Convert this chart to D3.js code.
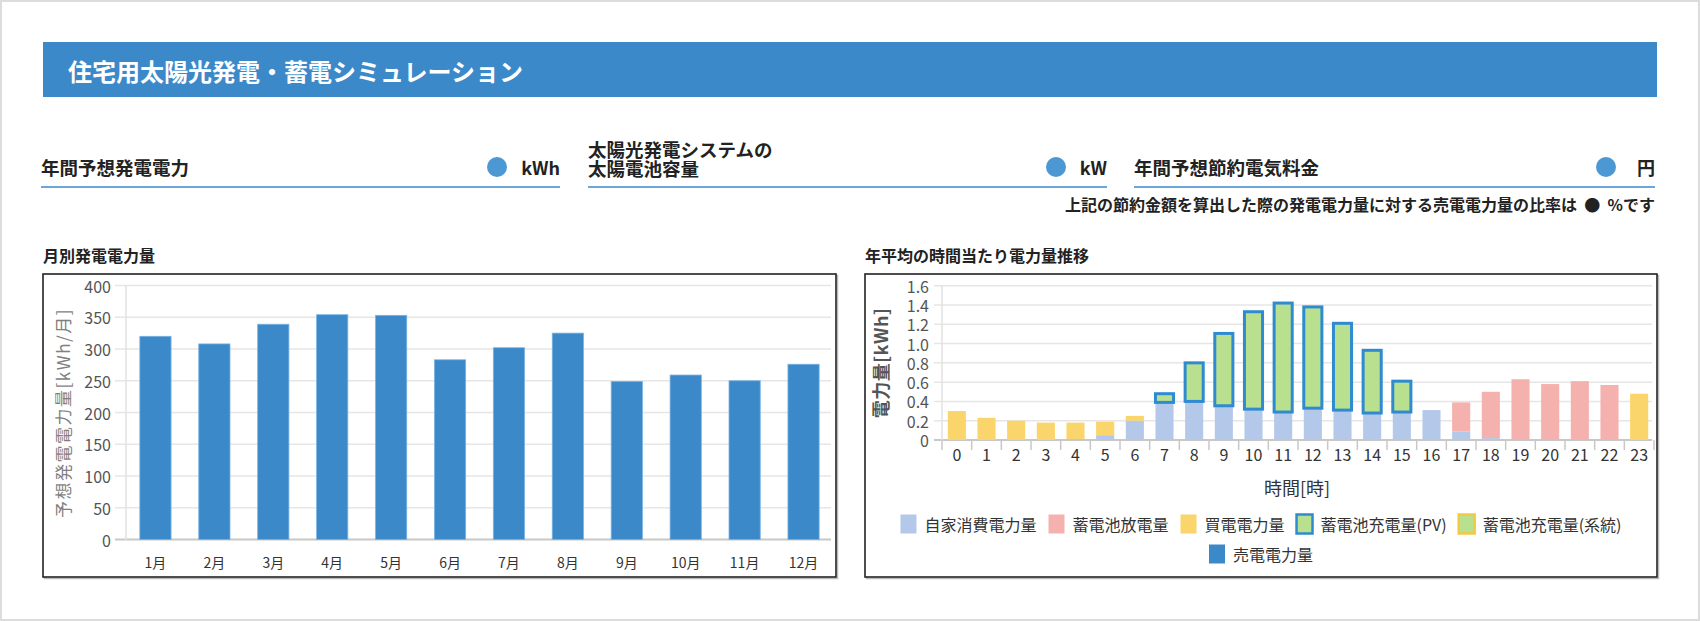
<!DOCTYPE html>
<html><head><meta charset="utf-8">
<script src="https://cdn.jsdelivr.net/npm/d3@7/dist/d3.min.js"></script>
<style>
html,body{margin:0;padding:0;background:#dcdcdc;}
svg{display:block;}
text{font-family:"Noto Sans CJK JP","Noto Sans",sans-serif;}
</style></head>
<body>
<svg id="c" width="1700" height="621"></svg>
<script>
// ---- data ----
const pageTitle = "住宅用太陽光発電・蓄電シミュレーション";
const fieldLabels = [["年間予想発電電力"], ["太陽光発電システムの", "太陽電池容量"], ["年間予想節約電気料金"]];
const fieldUnits = ["kWh", "kW", "円"];
const noteText = "上記の節約金額を算出した際の発電電力量に対する売電電力量の比率は  ●  %です";

const monthLabels = ["1月","2月","3月","4月","5月","6月","7月","8月","9月","10月","11月","12月"];
const monthlyKWh = [320, 308, 339, 354, 353, 283, 302, 325, 249, 259, 250, 276];
const monthlyTicks = [0, 50, 100, 150, 200, 250, 300, 350, 400];

const hourLabels = ["0","1","2","3","4","5","6","7","8","9","10","11","12","13","14","15","16","17","18","19","20","21","22","23"];
const selfUse    = [0, 0, 0, 0, 0.01, 0.05, 0.20, 0.39, 0.40, 0.355, 0.32, 0.29, 0.33, 0.31, 0.28, 0.29, 0.31, 0.09, 0.02, 0, 0, 0, 0, 0];
const discharge  = [0, 0, 0, 0, 0, 0, 0, 0, 0, 0, 0, 0, 0, 0, 0, 0, 0, 0.30, 0.48, 0.63, 0.58, 0.61, 0.57, 0];
const purchase   = [0.30, 0.23, 0.20, 0.18, 0.17, 0.14, 0.05, 0, 0, 0, 0, 0, 0, 0, 0, 0, 0, 0, 0, 0, 0, 0, 0, 0.48];
const chargePV   = [0, 0, 0, 0, 0, 0, 0, 0.09, 0.40, 0.75, 1.01, 1.13, 1.05, 0.90, 0.65, 0.32, 0, 0, 0, 0, 0, 0, 0, 0];
const chargeGrid = [0, 0, 0, 0, 0, 0, 0, 0, 0, 0, 0, 0, 0, 0, 0, 0, 0, 0, 0, 0, 0, 0, 0, 0];
const sell       = [0, 0, 0, 0, 0, 0, 0, 0, 0, 0, 0, 0, 0, 0, 0, 0, 0, 0, 0, 0, 0, 0, 0, 0];
const hourlyTicks = [0, 0.2, 0.4, 0.6, 0.8, 1.0, 1.2, 1.4, 1.6];
const seriesNames = ["自家消費電力量", "蓄電池放電量", "買電電力量", "蓄電池充電量(PV)", "蓄電池充電量(系統)", "売電電力量"];

// ---- drawing ----
const svg = d3.select("#c");
svg.append("rect").attr("x", 2).attr("y", 2).attr("width", 1696).attr("height", 617).attr("fill", "#fff");

// header bar
svg.append("rect").attr("x", 43).attr("y", 42).attr("width", 1614).attr("height", 55).attr("fill", "#3c89c9");
svg.append("text").attr("x", 68).attr("y", 70).attr("dominant-baseline", "central")
  .attr("fill", "#fff").attr("font-size", 24).attr("font-weight", 700).text(pageTitle);

// fields
const fields = [{x0: 41, x1: 560, dot: 497}, {x0: 588, x1: 1107, dot: 1056}, {x0: 1134, x1: 1655, dot: 1606}];
fields.forEach((f, i) => {
  const lines = fieldLabels[i];
  const t = svg.append("text").attr("font-size", 18.5).attr("font-weight", 700).attr("fill", "#222");
  lines.forEach((ln, j) => {
    const y = lines.length === 1 ? 167 : 149 + j * 18.5;
    t.append("tspan").attr("x", f.x0).attr("y", y).attr("dominant-baseline", "central").text(ln);
  });
  svg.append("circle").attr("cx", f.dot).attr("cy", 167).attr("r", 10).attr("fill", "#4b98d3");
  svg.append("text").attr("x", f.x1).attr("y", 167).attr("text-anchor", "end").attr("dominant-baseline", "central")
    .attr("font-size", 18).attr("font-weight", 700).attr("fill", "#222").text(fieldUnits[i]);
  svg.append("line").attr("x1", f.x0).attr("x2", f.x1).attr("y1", 187).attr("y2", 187)
    .attr("stroke", "#6aa6da").attr("stroke-width", 2);
});
svg.append("text").attr("x", 1655).attr("y", 204).attr("text-anchor", "end").attr("dominant-baseline", "central")
  .attr("font-size", 16).attr("font-weight", 700).attr("fill", "#222").style("white-space", "pre").text(noteText);

// section titles
svg.append("text").attr("x", 43).attr("y", 255).attr("dominant-baseline", "central")
  .attr("font-size", 16).attr("font-weight", 700).attr("fill", "#222").text("月別発電電力量");
svg.append("text").attr("x", 865).attr("y", 255).attr("dominant-baseline", "central")
  .attr("font-size", 16).attr("font-weight", 700).attr("fill", "#222").text("年平均の時間当たり電力量推移");

// boxes
[[43, 836], [865, 1657]].forEach(([x0, x1]) => {
  svg.append("rect").attr("x", x0 + 1.5).attr("y", 275.5).attr("width", x1 - x0).attr("height", 303)
    .attr("fill", "none").attr("stroke", "#bbb").attr("stroke-width", 1.5);
  svg.append("rect").attr("x", x0).attr("y", 274).attr("width", x1 - x0).attr("height", 303)
    .attr("fill", "#fff").attr("stroke", "#222").attr("stroke-width", 1.6);
});

// ---- left chart ----
{
  const x = d3.scaleBand().domain(monthLabels).range([126, 833]).paddingInner(0.47).paddingOuter(0.235);
  const y = d3.scaleLinear().domain([0, 400]).range([539.5, 285.5]);
  const g = svg.append("g");
  monthlyTicks.forEach(t => {
    g.append("line").attr("x1", 115).attr("x2", 831).attr("y1", y(t)).attr("y2", y(t))
      .attr("stroke", t === 0 ? "#c8c8c8" : "#e6e6e6").attr("stroke-width", t === 0 ? 2 : 1.5);
    g.append("text").attr("x", 111).attr("y", y(t)).attr("text-anchor", "end").attr("dominant-baseline", "central")
      .attr("font-size", 16).attr("fill", "#555").text(t);
  });
  g.append("line").attr("x1", 126).attr("x2", 126).attr("y1", 285).attr("y2", 540).attr("stroke", "#e0e0e0").attr("stroke-width", 1.5);
  g.selectAll("rect.bar").data(monthLabels).enter().append("rect").attr("class", "bar")
    .attr("x", d => x(d)).attr("width", x.bandwidth())
    .attr("y", (d, i) => y(monthlyKWh[i])).attr("height", (d, i) => y(0) - y(monthlyKWh[i]))
    .attr("fill", "#3c89c9").attr("stroke", "#78b3e3").attr("stroke-width", 0.8);
  g.selectAll("text.xl").data(monthLabels).enter().append("text").attr("class", "xl")
    .attr("x", d => x(d) + x.bandwidth() / 2).attr("y", 562).attr("text-anchor", "middle").attr("dominant-baseline", "central")
    .attr("font-size", 14).attr("fill", "#333").text(d => d);
  g.append("text").attr("transform", "translate(62,413) rotate(-90)").attr("text-anchor", "middle").attr("dominant-baseline", "central")
    .attr("font-size", 17).attr("letter-spacing", 1.5).attr("fill", "#7f7f7f").text("予想発電電力量[kWh/月]");
}

// ---- right chart ----
{
  const x = d3.scaleBand().domain(hourLabels).range([942, 1654]).paddingInner(0.39).paddingOuter(0.195);
  const y = d3.scaleLinear().domain([0, 1.6]).range([440, 285.7]);
  const g = svg.append("g");
  hourlyTicks.forEach(t => {
    g.append("line").attr("x1", 934).attr("x2", 1652).attr("y1", y(t)).attr("y2", y(t))
      .attr("stroke", t === 0 ? "#c8c8c8" : "#e6e6e6").attr("stroke-width", t === 0 ? 2 : 1.5);
    g.append("text").attr("x", 929).attr("y", y(t)).attr("text-anchor", "end").attr("dominant-baseline", "central")
      .attr("font-size", 16).attr("fill", "#555").text(t === 0 ? "0" : d3.format(".1f")(t));
  });
  g.append("line").attr("x1", 942).attr("x2", 942).attr("y1", 285).attr("y2", 441).attr("stroke", "#e0e0e0").attr("stroke-width", 1.5);
  // ticks between bands
  const step = x.step();
  d3.range(25).forEach(i => {
    const xx = 942 + i * step;
    g.append("line").attr("x1", xx).attr("x2", xx).attr("y1", 440).attr("y2", 450).attr("stroke", "#c8c8c8").attr("stroke-width", 1.5);
  });
  const rows = hourLabels.map((h, i) => ({h, s0: selfUse[i], s1: discharge[i], s2: purchase[i], s3: chargePV[i], s4: chargeGrid[i], s5: sell[i]}));
  const keys = ["s0", "s1", "s2", "s3", "s4", "s5"];
  const fills = ["#b4c8ea", "#f4b1ad", "#fad56b", "#b9e08f", "#b9e08f", "#3c89c9"];
  const strokes = [null, null, null, "#2f8bd0", "#f5c842", null];
  const stacked = d3.stack().keys(keys)(rows);
  stacked.forEach((layer, k) => {
    g.selectAll("rect.k" + k).data(layer.filter(d => d[1] - d[0] > 0)).enter().append("rect")
      .attr("x", d => x(d.data.h)).attr("width", x.bandwidth())
      .attr("y", d => y(d[1])).attr("height", d => y(d[0]) - y(d[1]))
      .attr("fill", fills[k])
      .attr("stroke", strokes[k] || "none").attr("stroke-width", strokes[k] ? 3 : 0);
  });
  g.selectAll("text.xl").data(hourLabels).enter().append("text").attr("class", "xl")
    .attr("x", d => x(d) + x.bandwidth() / 2).attr("y", 454).attr("text-anchor", "middle").attr("dominant-baseline", "central")
    .attr("font-size", 16).attr("fill", "#333").text(d => d);
  g.append("text").attr("x", 1297).attr("y", 487).attr("text-anchor", "middle").attr("dominant-baseline", "central")
    .attr("font-size", 18).attr("fill", "#333").text("時間[時]");
  g.append("text").attr("transform", "translate(880,363) rotate(-90)").attr("text-anchor", "middle").attr("dominant-baseline", "central")
    .attr("font-size", 18).attr("font-weight", 700).attr("letter-spacing", 0.5).attr("fill", "#555").text("電力量[kWh]");

  // legend
  const legendRows = [[0, 1, 2, 3, 4], [5]];
  const rowY = [524, 554];
  const cx = 1261;
  legendRows.forEach((row, ri) => {
    const items = row.map(k => {
      const grp = g.append("g");
      grp.append("rect").attr("x", 0).attr("y", -9.5).attr("width", 16).attr("height", 19)
        .attr("fill", fills[k]).attr("stroke", strokes[k] || "none").attr("stroke-width", strokes[k] ? 2.5 : 0);
      const t = grp.append("text").attr("x", 24).attr("y", 0).attr("dominant-baseline", "central")
        .attr("font-size", 16).attr("fill", "#333").text(seriesNames[k]);
      const w = 24 + t.node().getComputedTextLength();
      return {grp, w};
    });
    const gap = 12;
    const total = d3.sum(items, d => d.w) + gap * (items.length - 1);
    let xx = cx - total / 2;
    items.forEach(it => {
      it.grp.attr("transform", `translate(${xx},${rowY[ri]})`);
      xx += it.w + gap;
    });
  });
}
</script>
</body></html>
